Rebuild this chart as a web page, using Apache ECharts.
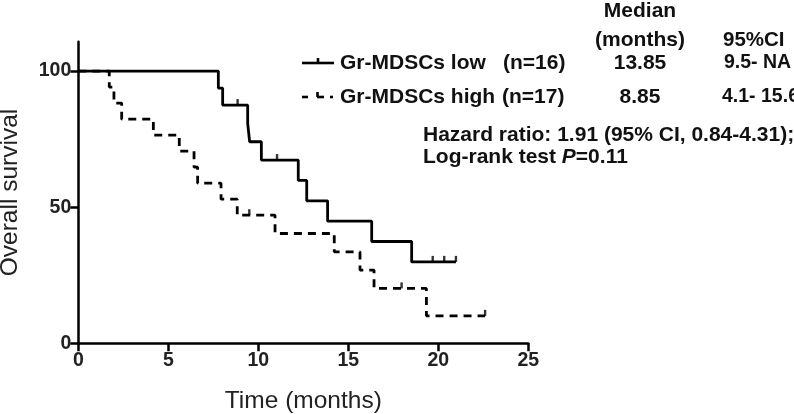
<!DOCTYPE html>
<html>
<head>
<meta charset="utf-8">
<script src="https://cdn.jsdelivr.net/npm/echarts@6/dist/echarts.min.js"></script>
<style>html,body{margin:0;padding:0;background:#fff}#c{width:794px;height:414px}</style>
</head>
<body>
<div id="c"></div>
<script>
// ---- data ----
const lowTime = [0, 7.78, 8.02, 9.41, 9.52, 10.17, 12.22, 12.69, 13.85, 16.3, 18.52, 20.98];
const lowSurv = [100, 93.75, 87.5, 80.77, 74.04, 67.31, 59.83, 52.35, 44.87, 37.39, 29.91, 29.91];
const lowCensorTime = [8.85, 11.04, 19.69, 20.33, 20.98];
const lowCensorSurv = [87.5, 67.31, 29.91, 29.91, 29.91];

const highTime = [0, 1.72, 1.98, 2.41, 4.17, 5.61, 6.43, 6.63, 7.93, 8.83, 10.93, 14.22, 15.65, 16.43, 19.34, 22.6];
const highSurv = [100, 94.12, 88.24, 82.35, 76.47, 70.59, 64.71, 58.82, 52.94, 47.06, 40.34, 33.61, 26.89, 20.17, 10.08, 10.08];
const highCensorTime = [9.5, 17.96, 22.6];
const highCensorSurv = [47.06, 20.17, 10.08];

const xTicks = [0, 5, 10, 15, 20, 25];
const yTicks = [0, 50, 100];

const groupNames = ['Gr-MDSCs low', 'Gr-MDSCs high'];
const groupN = ['(n=16)', '(n=17)'];
const medians = ['13.85', '8.85'];
const cis = ['9.5- NA', '4.1- 15.6'];
const headMedian = ['Median', '(months)'];
const headCI = '95%CI';
const hazardText = 'Hazard ratio: 1.91 (95% CI, 0.84-4.31);';
const logrank = ['Log-rank test ', 'P', '=0.11'];

// ---- chart ----
const zip = (a, b) => a.map((v, i) => [v, b[i]]);
const FONT = '"Liberation Sans", Arial, sans-serif';
const chart = echarts.init(document.getElementById('c'), null, {renderer: 'canvas'});

const txt = (text, x, y, align, size) => ({
  type: 'text',
  style: {text: text, x: x, y: y, align: align || 'left', verticalAlign: 'middle',
          font: 'bold ' + (size || 21) + 'px ' + FONT, fill: '#111'}
});
const seg = (x1, y1, x2, y2) => ({
  type: 'line', shape: {x1: x1, y1: y1, x2: x2, y2: y2},
  style: {stroke: '#000', lineWidth: 2.6}
});

const rowY = [63, 97];
const graphics = [
  txt(headMedian[0], 640, 11, 'center'),
  txt(headMedian[1], 640, 40, 'center'),
  txt(headCI, 723, 40, 'left', 20.5),
  txt(groupNames[0], 340, rowY[0]), txt(groupN[0], 503, rowY[0]),
  txt(medians[0], 640, rowY[0], 'center'), txt(cis[0], 724, rowY[0], 'left', 19.5),
  txt(groupNames[1], 340, rowY[1]), txt(groupN[1], 502, rowY[1]),
  txt(medians[1], 640, rowY[1], 'center'), txt(cis[1], 722, rowY[1], 'left', 19.5),
  txt(hazardText, 423, 135),
  {
    type: 'text',
    style: {
      text: '{a|' + logrank[0] + '}{b|' + logrank[1] + '}{a|' + logrank[2] + '}',
      x: 423, y: 157, verticalAlign: 'middle',
      rich: {
        a: {font: 'bold 21px ' + FONT, fill: '#111'},
        b: {font: 'italic bold 21px ' + FONT, fill: '#111'}
      }
    }
  },
  // legend symbols
  seg(302, rowY[0], 334, rowY[0]), seg(318, rowY[0], 318, rowY[0] - 5),
  seg(302, rowY[1], 308, rowY[1]), seg(317, rowY[1], 324, rowY[1]),
  seg(317.5, rowY[1], 317.5, rowY[1] - 5), seg(330, rowY[1], 333, rowY[1])
];

const axisCommon = {
  axisLine: {show: true, lineStyle: {color: '#000', width: 2.5}},
  axisTick: {show: true, inside: false, length: 8, lineStyle: {color: '#000', width: 2.5}},
  axisLabel: {fontSize: 19.5, fontWeight: 'bold', color: '#222', fontFamily: FONT, margin: 7},
  splitLine: {show: false},
  nameLocation: 'middle',
  nameTextStyle: {fontSize: 24.5, color: '#222', fontFamily: FONT}
};

chart.setOption({
  animation: false,
  backgroundColor: '#fff',
  grid: {left: 78.3, top: 41.7, right: 265.7, bottom: 70.7, containLabel: false, outerBoundsMode: 'none'},
  xAxis: Object.assign({}, axisCommon, {
    type: 'value', min: xTicks[0], max: xTicks[xTicks.length - 1], interval: 5,
    name: 'Time (months)', nameGap: 45,
    axisTick: Object.assign({}, axisCommon.axisTick, {customValues: xTicks}),
    axisLabel: Object.assign({}, axisCommon.axisLabel, {customValues: xTicks})
  }),
  yAxis: Object.assign({}, axisCommon, {
    type: 'value', min: 0, max: 110.8,
    name: 'Overall survival', nameGap: 56,
    axisTick: Object.assign({}, axisCommon.axisTick, {customValues: yTicks}),
    axisLabel: Object.assign({}, axisCommon.axisLabel, {customValues: yTicks})
  }),
  series: [
    {
      name: groupNames[0], type: 'line', step: 'end', symbol: 'none',
      data: zip(lowTime, lowSurv),
      lineStyle: {color: '#000', width: 2.8}
    },
    {
      name: groupNames[1], type: 'line', step: 'end', symbol: 'none',
      data: zip(highTime, highSurv),
      lineStyle: {color: '#000', width: 2.8, type: [8, 6]}
    },
    {
      type: 'scatter', data: zip(lowCensorTime, lowCensorSurv),
      symbol: 'rect', symbolSize: [2.4, 6], symbolOffset: [0, -3],
      itemStyle: {color: '#000'}
    },
    {
      type: 'scatter', data: zip(highCensorTime, highCensorSurv),
      symbol: 'rect', symbolSize: [2.4, 6], symbolOffset: [0, -3],
      itemStyle: {color: '#000'}
    }
  ],
  graphic: graphics
});
</script>
</body>
</html>
